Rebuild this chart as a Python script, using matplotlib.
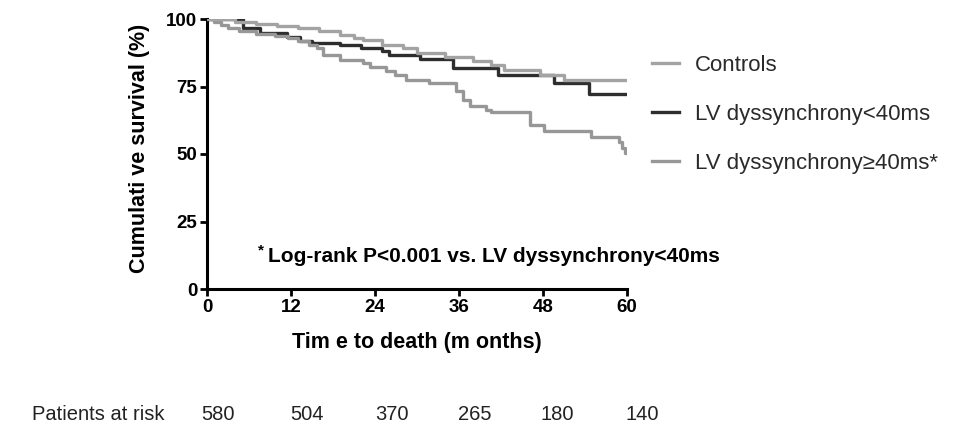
import matplotlib
matplotlib.use("Agg")
import matplotlib.pyplot as plt

plt.rcParams['font.family'] = ['Liberation Sans', 'DejaVu Sans']

# ---- data ----
ctrl_t = [0, 4, 7, 10, 13, 16, 19, 21, 22.3, 25, 28, 30, 34, 38, 40.5, 42.4, 47.6, 51, 60]
ctrl_s = [100, 99.0, 98.2, 97.5, 96.8, 95.5, 94.2, 92.9, 92.1, 90.5, 89.2, 87.4, 86.1, 84.3, 83.1, 81.2, 79.3, 77.5, 77.5]

lt40_t = [0, 5.2, 7.5, 11.4, 13.3, 15, 19, 22, 25, 26, 30.4, 35.1, 41.5, 49.5, 54.6, 60]
lt40_s = [100, 96.7, 94.8, 93.3, 92.0, 91.1, 90.5, 89.2, 88.0, 86.8, 85.2, 81.8, 79.3, 76.3, 72.3, 72.3]

ge40_t = [0, 1, 2, 3, 4.6, 7, 9.7, 11.5, 13, 14.5, 15.7, 16.6, 19, 22.3, 23.3, 25.6, 26.8, 28.4,
          31.7, 35.5, 36.5, 37.5, 39.8, 40.5, 46.2, 48.1, 54.8, 58.8, 59.3, 59.7, 60]
ge40_s = [100, 98.8, 97.6, 96.5, 95.4, 94.6, 93.7, 92.8, 91.7, 90.5, 89.2, 86.5, 84.9, 83.7, 82.4, 80.6, 79.3, 77.5,
          76.3, 73.2, 70.1, 67.6, 66.4, 65.7, 60.8, 58.6, 56.2, 54.6, 52.3, 50.4, 50.4]

labels = ["Controls", "LV dyssynchrony<40ms", "LV dyssynchrony\u226540ms*"]
x_ticks = [0, 12, 24, 36, 48, 60]
y_ticks = [0, 25, 50, 75, 100]
at_risk = [580, 504, 370, 265, 180, 140]

# ---- figure ----
fig = plt.figure(figsize=(9.62, 4.26), dpi=100)
ax = fig.add_axes([207/962, 1 - 289/426, 420/962, 270/426])

lw = 2.4
ax.step(ctrl_t, ctrl_s, where='post', color='#a3a3a3', lw=lw, label=labels[0], zorder=3)
ax.step(lt40_t, lt40_s, where='post', color='#2e2e2e', lw=lw, label=labels[1], zorder=2)
ax.step(ge40_t, ge40_s, where='post', color='#979797', lw=lw, label=labels[2], zorder=2)

ax.set_xlim(0, 60)
ax.set_ylim(0, 100)
ax.set_xticks(x_ticks)
ax.set_yticks(y_ticks)
for side in ['top', 'right']:
    ax.spines[side].set_visible(False)
for side in ['left', 'bottom']:
    ax.spines[side].set_linewidth(2.2)
ax.tick_params(direction='out', length=5, width=2, labelsize=13.5, pad=2)
for lab in ax.get_xticklabels() + ax.get_yticklabels():
    lab.set_fontweight('bold')

ax.set_ylabel("Cumulati ve survival (%)", fontsize=15.5, fontweight='bold', labelpad=8)
ax.yaxis.set_label_coords(-0.135, 0.52)
ax.set_xlabel("Tim e to death (m onths)", fontsize=15.5, fontweight='bold', labelpad=12)

ax.text(0.121, 0.167, "*", transform=ax.transAxes, fontsize=11, fontweight='bold', ha='left', va='top')
ax.text(0.145, 0.10, "Log-rank P<0.001 vs. LV dyssynchrony<40ms", transform=ax.transAxes,
        fontsize=15, fontweight='bold', ha='left', va='baseline')

leg = ax.legend(loc='upper left', bbox_to_anchor=(632/962, 1 - 35/426), bbox_transform=fig.transFigure,
                frameon=False, fontsize=16, handlelength=1.2, handletextpad=0.75, labelspacing=1.26)
for t in leg.get_texts():
    t.set_color('#2a2a2a')

# patients at risk row
fig.text(32/962, 1 - 414/426, "Patients at risk", fontsize=14.5, ha='left', va='center', color='#222222')
risk_x = [218, 307, 392, 475, 557, 642]
for xp, n in zip(risk_x, at_risk):
    fig.text(xp/962, 1 - 414/426, str(n), fontsize=14.5, ha='center', va='center', color='#222222')

fig.savefig("out.png", dpi=100)
